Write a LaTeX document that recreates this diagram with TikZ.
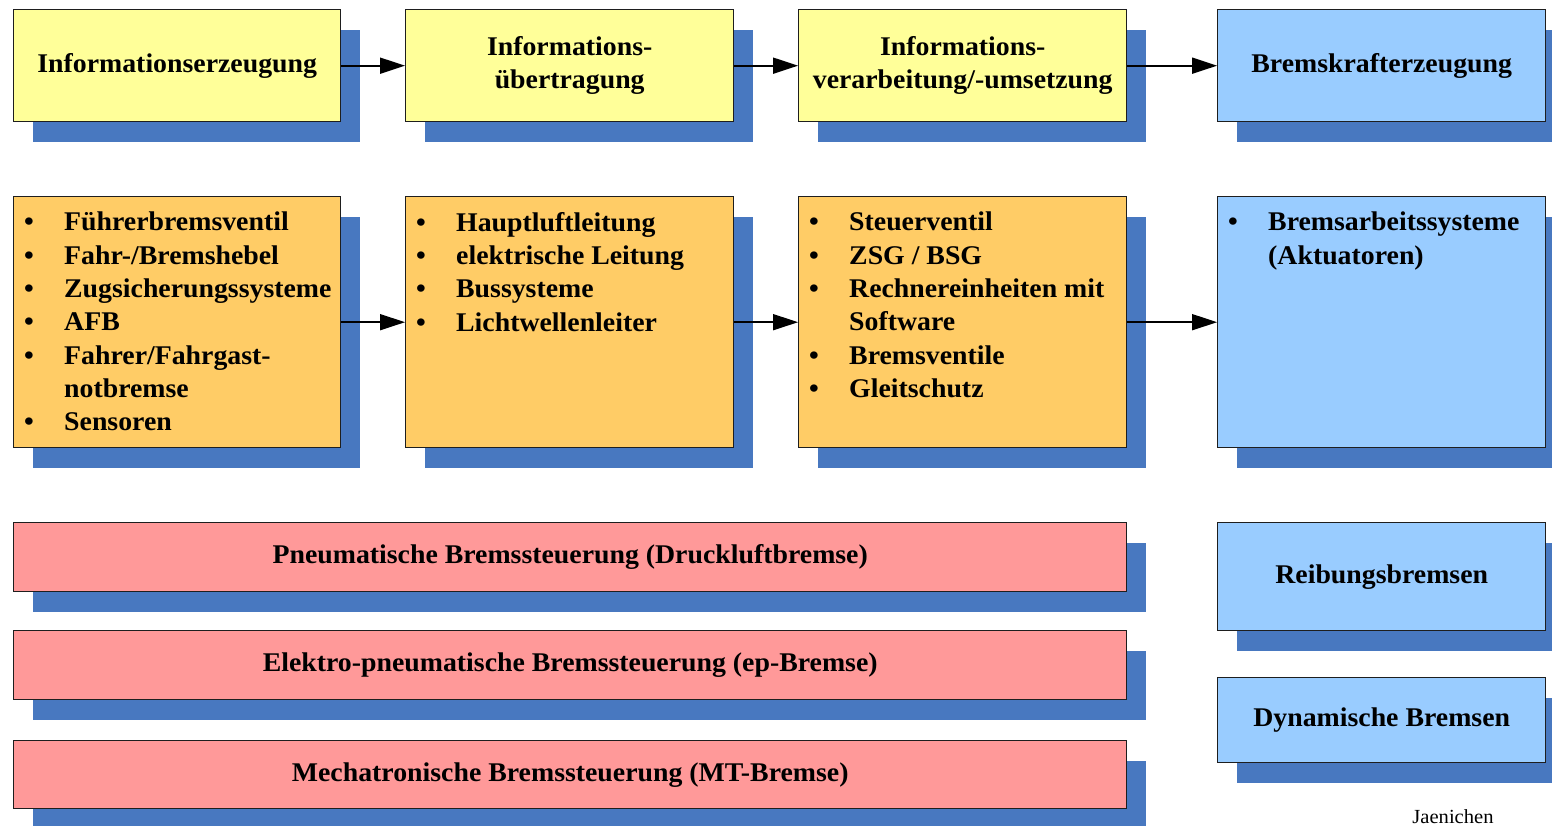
\documentclass[tikz,border=0pt]{standalone}
\usepackage{fontspec}
\setmainfont{Liberation Serif}[FakeStretch=1.03]
\usetikzlibrary{arrows.meta,shadows}
\definecolor{yel}{HTML}{FFFF99}
\definecolor{ora}{HTML}{FFCC66}
\definecolor{lblue}{HTML}{99CCFF}
\definecolor{rosa}{HTML}{FF9999}
\definecolor{shd}{HTML}{4878C0}
\definecolor{bordc}{HTML}{1E1E1E}
\newcommand\bul{\makebox[40pt][l]{\textbullet}}
\newcommand\nob{\makebox[40pt][l]{}}
\tikzset{
  x=1pt, y=-1pt,
  box/.style={draw=bordc, line width=1.4pt, anchor=north west, inner sep=0pt,
    general shadow={fill=shd, shadow xshift=19pt, shadow yshift=-20pt},
    font=\fontsize{27}{33.3}\selectfont\bfseries, align=center},
  listtext/.style={anchor=north west, inner sep=0pt, align=left,
    font=\fontsize{27}{33.3}\selectfont\bfseries},
  flow/.style={-{Triangle[length=25pt,width=16pt]}, line width=2pt, draw=black}
}
\begin{document}
\begin{tikzpicture}
\useasboundingbox (0,0) rectangle (1552,825);
% row 1
\node[box, fill=yel, minimum width=327pt, minimum height=112pt] (a1) at (13,9) {Informationserzeugung};
\node[box, fill=yel, minimum width=328pt, minimum height=112pt] (a2) at (405,9) {Informations-\\übertragung};
\node[box, fill=yel, minimum width=328pt, minimum height=112pt] (a3) at (798,9) {Informations-\\verarbeitung/-umsetzung};
\node[box, fill=lblue, minimum width=328pt, minimum height=112pt] (a4) at (1217,9) {Bremskrafterzeugung};
% row 2
\node[box, fill=ora, minimum width=327pt, minimum height=251pt] (b1) at (13,196) {};
\node[box, fill=ora, minimum width=328pt, minimum height=251pt] (b2) at (405,196) {};
\node[box, fill=ora, minimum width=328pt, minimum height=251pt] (b3) at (798,196) {};
\node[box, fill=lblue, minimum width=328pt, minimum height=251pt] (b4) at (1217,196) {};
\node[listtext] (t1) at ([xshift=11pt,yshift=-16pt]b1.north west)
  {\bul Führerbremsventil\\ \bul Fahr-/Bremshebel\\ \bul Zugsicherungssysteme\\ \bul AFB\\ \bul Fahrer/Fahrgast-\\ \nob notbremse\\ \bul Sensoren};
\node[listtext] (t2) at ([xshift=11pt,yshift=-16pt]b2.north west)
  {\bul Hauptluftleitung\\ \bul elektrische Leitung\\ \bul Bussysteme\\ \bul Lichtwellenleiter};
\node[listtext] (t3) at ([xshift=11pt,yshift=-16pt]b3.north west)
  {\bul Steuerventil\\ \bul ZSG / BSG\\ \bul Rechnereinheiten mit\\ \nob Software\\ \bul Bremsventile\\ \bul Gleitschutz};
\node[listtext] (t4) at ([xshift=11pt,yshift=-16pt]b4.north west)
  {\bul Bremsarbeitssysteme\\ \nob (Aktuatoren)};
% arrows
\draw[flow] (a1.east) -- (a2.west);
\draw[flow] (a2.east) -- (a3.west);
\draw[flow] (a3.east) -- (a4.west);
\draw[flow] (b1.east) -- (b2.west);
\draw[flow] (b2.east) -- (b3.west);
\draw[flow] (b3.east) -- (b4.west);
% bottom bars
\node[box, fill=rosa, minimum width=1113pt, minimum height=69pt] (c1) at (13,522) {Pneumatische Bremssteuerung (Druckluftbremse)};
\node[box, fill=rosa, minimum width=1113pt, minimum height=69pt] (c2) at (13,630) {Elektro-pneumatische Bremssteuerung (ep-Bremse)};
\node[box, fill=rosa, minimum width=1113pt, minimum height=68pt] (c3) at (13,740) {Mechatronische Bremssteuerung (MT-Bremse)};
\node[box, fill=lblue, minimum width=328pt, minimum height=108pt] (d1) at (1217,522) {Reibungsbremsen};
\node[box, fill=lblue, minimum width=328pt, minimum height=85pt] (d2) at (1217,677) {Dynamische Bremsen};
\node[anchor=base, inner sep=0pt, font=\fontsize{20}{22}\selectfont] (auth) at (1453,823) {Jaenichen};
\end{tikzpicture}
\end{document}
